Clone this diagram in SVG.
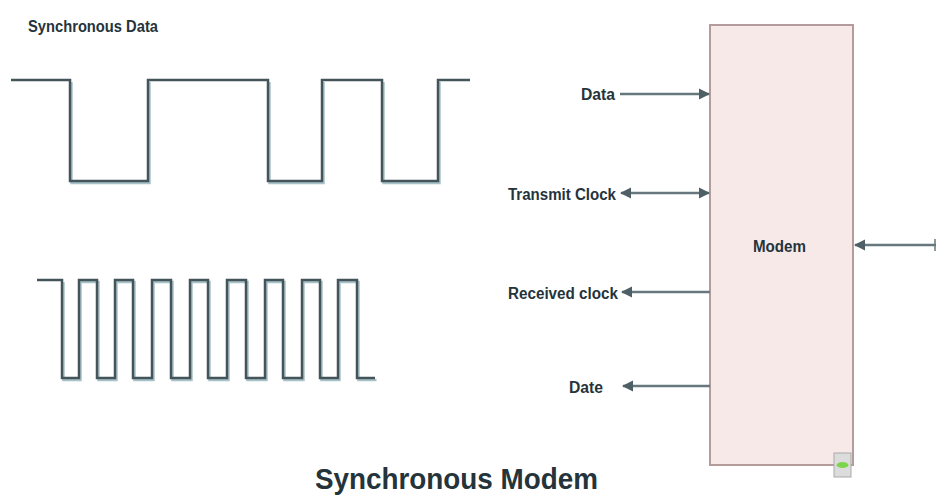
<svg xmlns="http://www.w3.org/2000/svg" width="936" height="502" viewBox="0 0 936 502">
<style>
.lbl{font-family:"Liberation Sans",Arial,sans-serif;font-weight:bold;fill:#25343b}
.wave{fill:none;stroke:#43545a;stroke-width:2.5;stroke-linejoin:miter}
.shadow{fill:none;stroke:#a8c2ca;stroke-width:2.5}
.conn{stroke:#66777d;stroke-width:2.5;fill:none}
</style>
<defs>
<marker id="ah" viewBox="0 0 10 10" refX="9" refY="5" markerWidth="4.5" markerHeight="4.5" orient="auto-start-reverse">
<path d="M0,0 L10,5 L0,10 z" fill="#4f5f66"/>
</marker>
</defs>
<rect width="936" height="502" fill="#ffffff"/>
<text class="lbl" x="28" y="32" font-size="17" textLength="130" lengthAdjust="spacingAndGlyphs">Synchronous Data</text>
<g id="data-wave">
<path class="shadow" transform="translate(1.5,2)" d="M70,80 V181 H148 V80 M268,80 V181 H322 V80 M382,80 V181 H438 V80"/>
<path class="wave" d="M11,80 H70 V181 H148 V80 H268 V181 H322 V80 H382 V181 H438 V80 H470"/>
</g>
<g id="clock-wave">
<path class="shadow" transform="translate(1.5,2)" d="M62,280 V378 H79 V280 H97 V378 H115 V280 H133 V378 H152 V280 H171 V378 H190 V280 H208 V378 H227 V280 H246 V378 H265 V280 H283 V378 H302 V280 H320 V378 H338 V280 H357 V378 H375"/>
<path class="wave" d="M37,280 H62 V378 H79 V280 H97 V378 H115 V280 H133 V378 H152 V280 H171 V378 H190 V280 H208 V378 H227 V280 H246 V378 H265 V280 H283 V378 H302 V280 H320 V378 H338 V280 H357 V378 H375"/>
</g>
<g id="modem">
<rect x="710" y="25" width="143" height="440" fill="#f8e9e9" stroke="#b49c9c" stroke-width="2"/>
<text class="lbl" x="779.5" y="252" font-size="16" text-anchor="middle" textLength="53" lengthAdjust="spacingAndGlyphs">Modem</text>
<rect x="834" y="453" width="17" height="24" fill="#dcdcdc" stroke="#a9a9a9" stroke-width="1"/>
<ellipse cx="842.5" cy="465" rx="6" ry="3" fill="#7cd64a"/>
</g>
<g id="lbl-data"><text class="lbl" x="615" y="100" font-size="16" text-anchor="end" textLength="34" lengthAdjust="spacingAndGlyphs">Data</text></g>
<g id="lbl-tx"><text class="lbl" x="616" y="200" font-size="16" text-anchor="end" textLength="108" lengthAdjust="spacingAndGlyphs">Transmit Clock</text></g>
<g id="lbl-rx"><text class="lbl" x="618" y="299" font-size="16" text-anchor="end" textLength="110" lengthAdjust="spacingAndGlyphs">Received clock</text></g>
<g id="lbl-date"><text class="lbl" x="603" y="393" font-size="16" text-anchor="end" textLength="34" lengthAdjust="spacingAndGlyphs">Date</text></g>
<g id="connectors">
<line class="conn" x1="620" y1="94" x2="709" y2="94" marker-end="url(#ah)"/>
<line class="conn" x1="621" y1="193" x2="709" y2="193" marker-start="url(#ah)" marker-end="url(#ah)"/>
<line class="conn" x1="710" y1="292" x2="622" y2="292" marker-end="url(#ah)"/>
<line class="conn" x1="710" y1="386" x2="623" y2="386" marker-end="url(#ah)"/>
<line class="conn" x1="936" y1="245" x2="855" y2="245" marker-end="url(#ah)"/>
<line x1="935" y1="239" x2="935" y2="251" stroke="#66777d" stroke-width="1.5"/>
</g>
<text class="lbl" x="315" y="489" font-size="29" textLength="283" lengthAdjust="spacingAndGlyphs" fill="#15202a">Synchronous Modem</text>
</svg>
